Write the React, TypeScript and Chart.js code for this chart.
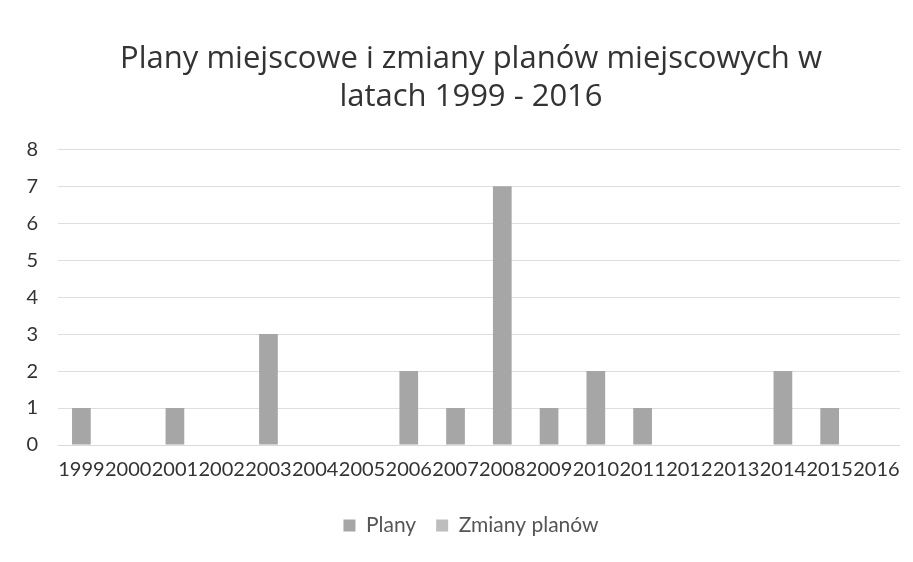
import React, { useEffect, useRef } from "react";
import { Chart, registerables } from "chart.js";

Chart.register(...registerables);

const years = ["1999","2000","2001","2002","2003","2004","2005","2006","2007","2008","2009","2010","2011","2012","2013","2014","2015","2016"];
const plany = [1,0,1,0,3,0,0,2,1,7,1,2,1,0,0,2,1,0];
const zmianyPlanow = [0,0,0,0,0,0,0,0,0,0,0,0,0,0,0,0,0,0];
const yTicks = [0,1,2,3,4,5,6,7,8];
const titleLines = ["Plany miejscowe i zmiany planów miejscowych w", "latach 1999 - 2016"];

const shiftBoxes = {
  id: "shiftBoxes",
  afterLayout(chart: any) {
    if (chart.titleBlock) chart.titleBlock.left = 42;
    if (chart.legend) chart.legend.left = 42;
  },
};

export default function App() {
  const ref = useRef<HTMLCanvasElement | null>(null);
  useEffect(() => {
    document.body.style.margin = "0";
    const ctx = ref.current;
    if (!ctx) return;
    const chart = new Chart(ctx, {
      type: "bar",
      data: {
        labels: years,
        datasets: [
          { label: "Plany", data: plany, backgroundColor: "#a6a6a6", borderWidth: 0 },
          { label: "Zmiany planów", data: zmianyPlanow, backgroundColor: "#bdbdbd", borderWidth: 0 },
        ],
      },
      plugins: [shiftBoxes],
      options: {
        animation: false,
        responsive: false,
        maintainAspectRatio: false,
        layout: { padding: { left: 0, right: 13, top: 0, bottom: 16 } },
        datasets: { bar: { categoryPercentage: 0.4, barPercentage: 1 } },
        plugins: {
          title: {
            display: true,
            text: titleLines,
            color: "#333333",
            font: { family: "Open Sans", size: 31, weight: "normal", lineHeight: 1.23 },
            padding: { top: 40, bottom: 33 },
          },
          legend: {
            display: true,
            position: "bottom",
            labels: {
              color: "#555555",
              font: { family: "Lato", size: 21 },
              boxWidth: 12,
              boxHeight: 12,
              padding: 20,
            },
          },
          tooltip: { enabled: false },
        },
        scales: {
          x: {
            stacked: true,
            grid: { display: false, drawTicks: false },
            border: { display: true, color: "#d9d9d9" },
            ticks: {
              color: "#333333",
              font: { family: "Lato", size: 20 },
              autoSkip: false,
              maxRotation: 0,
              minRotation: 0,
              padding: 13,
            },
          },
          y: {
            stacked: true,
            min: 0,
            max: 8,
            afterBuildTicks: (scale: any) => {
              scale.ticks = yTicks.map((v) => ({ value: v }));
            },
            afterFit: (scale: any) => {
              scale.width = 58;
            },
            grid: { color: "#dedede", drawTicks: false },
            border: { display: false },
            ticks: {
              color: "#333333",
              font: { family: "Lato", size: 20 },
              padding: 20,
            },
          },
        },
      },
    });
    return () => chart.destroy();
  }, []);
  return (
    <div style={{ position: "absolute", left: 0, top: 0, width: 913, height: 562, background: "#ffffff" }}>
      <canvas ref={ref} width={913} height={562} style={{ width: 913, height: 562 }} />
    </div>
  );
}
